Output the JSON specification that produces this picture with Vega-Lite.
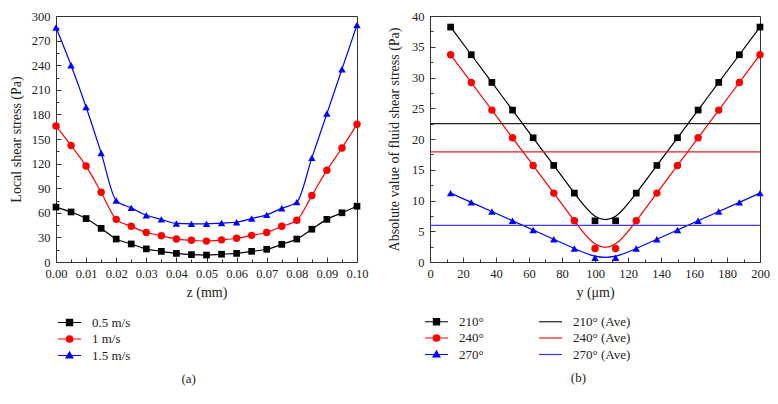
{
  "$schema": "https://vega.github.io/schema/vega-lite/v6.json",
  "padding": {"left": 8, "top": 9, "right": 5, "bottom": 5},
  "spacing": 18,
  "resolve": {
    "scale": {"x": "independent", "y": "independent", "color": "independent"},
    "legend": {"color": "independent"}
  },
  "config": {
    "font": "Liberation Serif",
    "view": {"stroke": "#333", "strokeWidth": 1},
    "axis": {"grid": false, "labelFlush": false, "domainColor": "#333", "tickColor": "#333", "labelColor": "#222", "titleColor": "#222", "labelFontSize": 12.5, "titleFontSize": 14, "titleFontWeight": "normal", "labelPadding": 11, "titlePadding": 8, "labelFont": "Liberation Serif", "titleFont": "Liberation Serif"},
    "axisX": {"labelPadding": 10, "titlePadding": 6},
    "legend": {"labelFontSize": 13, "labelFont": "Liberation Serif", "labelColor": "#222", "symbolSize": 59, "labelOffset": 16, "rowPadding": 2.5, "padding": 0},
    "title": {"fontSize": 13, "fontWeight": "normal", "font": "Liberation Serif", "color": "#222"}
  },
  "hconcat": [
    {
      "width": 301,
      "height": 246,
      "title": {"text": "(a)", "orient": "bottom", "frame": "bounds", "anchor": "middle", "offset": 10},
      "data": {"values": [
        {"z":0,"s":67,"c":"0.5 m/s"},{"z":0.005,"s":61,"c":"0.5 m/s"},{"z":0.01,"s":53,"c":"0.5 m/s"},{"z":0.015,"s":41,"c":"0.5 m/s"},{"z":0.02,"s":28,"c":"0.5 m/s"},{"z":0.025,"s":22,"c":"0.5 m/s"},{"z":0.03,"s":16,"c":"0.5 m/s"},{"z":0.035,"s":13,"c":"0.5 m/s"},{"z":0.04,"s":10.5,"c":"0.5 m/s"},{"z":0.045,"s":9,"c":"0.5 m/s"},{"z":0.05,"s":8.5,"c":"0.5 m/s"},{"z":0.055,"s":9.5,"c":"0.5 m/s"},{"z":0.06,"s":10.5,"c":"0.5 m/s"},{"z":0.065,"s":13,"c":"0.5 m/s"},{"z":0.07,"s":15.5,"c":"0.5 m/s"},{"z":0.075,"s":21.5,"c":"0.5 m/s"},{"z":0.08,"s":28,"c":"0.5 m/s"},{"z":0.085,"s":40,"c":"0.5 m/s"},{"z":0.09,"s":52,"c":"0.5 m/s"},{"z":0.095,"s":60,"c":"0.5 m/s"},{"z":0.1,"s":68,"c":"0.5 m/s"},
        {"z":0,"s":166,"c":"1 m/s"},{"z":0.005,"s":142,"c":"1 m/s"},{"z":0.01,"s":117,"c":"1 m/s"},{"z":0.015,"s":85,"c":"1 m/s"},{"z":0.02,"s":52,"c":"1 m/s"},{"z":0.025,"s":43.5,"c":"1 m/s"},{"z":0.03,"s":36,"c":"1 m/s"},{"z":0.035,"s":32,"c":"1 m/s"},{"z":0.04,"s":28,"c":"1 m/s"},{"z":0.045,"s":26.5,"c":"1 m/s"},{"z":0.05,"s":25.5,"c":"1 m/s"},{"z":0.055,"s":27,"c":"1 m/s"},{"z":0.06,"s":29,"c":"1 m/s"},{"z":0.065,"s":32.5,"c":"1 m/s"},{"z":0.07,"s":36,"c":"1 m/s"},{"z":0.075,"s":43.5,"c":"1 m/s"},{"z":0.08,"s":51,"c":"1 m/s"},{"z":0.085,"s":81,"c":"1 m/s"},{"z":0.09,"s":112,"c":"1 m/s"},{"z":0.095,"s":139,"c":"1 m/s"},{"z":0.1,"s":168,"c":"1 m/s"},
        {"z":0,"s":286,"c":"1.5 m/s"},{"z":0.005,"s":240,"c":"1.5 m/s"},{"z":0.01,"s":189,"c":"1.5 m/s"},{"z":0.015,"s":133,"c":"1.5 m/s"},{"z":0.02,"s":75,"c":"1.5 m/s"},{"z":0.025,"s":66,"c":"1.5 m/s"},{"z":0.03,"s":57,"c":"1.5 m/s"},{"z":0.035,"s":52,"c":"1.5 m/s"},{"z":0.04,"s":47,"c":"1.5 m/s"},{"z":0.045,"s":46.5,"c":"1.5 m/s"},{"z":0.05,"s":46.5,"c":"1.5 m/s"},{"z":0.055,"s":47.5,"c":"1.5 m/s"},{"z":0.06,"s":48.5,"c":"1.5 m/s"},{"z":0.065,"s":53,"c":"1.5 m/s"},{"z":0.07,"s":57.5,"c":"1.5 m/s"},{"z":0.075,"s":65.5,"c":"1.5 m/s"},{"z":0.08,"s":73,"c":"1.5 m/s"},{"z":0.085,"s":127,"c":"1.5 m/s"},{"z":0.09,"s":181,"c":"1.5 m/s"},{"z":0.095,"s":235,"c":"1.5 m/s"},{"z":0.1,"s":289,"c":"1.5 m/s"}
      ]},
      "encoding": {
        "x": {"field": "z", "type": "quantitative", "title": "z (mm)",
          "scale": {"domain": [0, 0.1], "nice": false, "zero": false, "padding": 0},
          "axis": {"values": [0,0.005,0.01,0.015,0.02,0.025,0.03,0.035,0.04,0.045,0.05,0.055,0.06,0.065,0.07,0.075,0.08,0.085,0.09,0.095,0.1],
            "labelExpr": "round(datum.value*1000) % 10 == 0 ? format(datum.value, '.2f') : ''",
            "tickSize": {"condition": {"test": "round(datum.value*1000) % 10 != 0", "value": -3}, "value": -5}}},
        "y": {"field": "s", "type": "quantitative", "title": "Local shear stress (Pa)",
          "scale": {"domain": [0, 300], "nice": false, "padding": 0},
          "axis": {"titlePadding": 8, "values": [0,15,30,45,60,75,90,105,120,135,150,165,180,195,210,225,240,255,270,285,300],
            "labelExpr": "datum.value % 30 == 0 ? datum.label : ''",
            "tickSize": {"condition": {"test": "datum.value % 30 != 0", "value": -3}, "value": -5}}},
        "color": {"field": "c", "type": "nominal",
          "scale": {"domain": ["0.5 m/s", "1 m/s", "1.5 m/s"], "range": ["#000000", "#ff0000", "#0000ff"]},
          "legend": {"title": null, "orient": "none", "legendX": 7, "legendY": 300, "direction": "vertical",
            "encode": {"symbols": {"update": {
              "shape": {"signal": "datum.value == '0.5 m/s' ? 'M-3,0H3M-0.8,-0.8H0.8V0.8H-0.8Z' : datum.value == '1 m/s' ? 'M-3,0H3M0.85,0A0.85,0.85,0,1,1,-0.85,0A0.85,0.85,0,1,1,0.85,0Z' : 'M-3,0H3M0,-0.9L0.9,0.65H-0.9Z'"},
              "fill": {"signal": "datum.value == '0.5 m/s' ? '#000000' : datum.value == '1 m/s' ? '#ff0000' : '#0000ff'"},
              "stroke": {"signal": "datum.value == '0.5 m/s' ? '#000000' : datum.value == '1 m/s' ? '#ff0000' : '#0000ff'"},
              "strokeWidth": {"value": 1.2},
              "opacity": {"value": 1},
              "fillOpacity": {"value": 1},
              "strokeOpacity": {"value": 1},
              "size": {"value": 59}}}}}}
      },
      "layer": [
        {"mark": {"type": "line", "interpolate": "monotone", "strokeWidth": 1.2}},
        {"transform": [{"filter": "datum.c == '0.5 m/s'"}], "mark": {"type": "point", "shape": "square", "filled": true, "opacity": 1, "size": 45}},
        {"transform": [{"filter": "datum.c == '1 m/s'"}], "mark": {"type": "point", "shape": "circle", "filled": true, "opacity": 1, "size": 55}},
        {"transform": [{"filter": "datum.c == '1.5 m/s'"}], "mark": {"type": "point", "shape": "triangle-up", "filled": true, "opacity": 1, "size": 55}}
      ]
    },
    {
      "width": 330,
      "height": 246,
      "title": {"text": "(b)", "orient": "bottom", "frame": "bounds", "anchor": "middle", "offset": 10},
      "data": {"values": [
        {"y":12.5,"v":38.2,"c":"210°"},{"y":25,"v":33.7,"c":"210°"},{"y":37.5,"v":29.2,"c":"210°"},{"y":50,"v":24.7,"c":"210°"},{"y":62.5,"v":20.2,"c":"210°"},{"y":75,"v":15.7,"c":"210°"},{"y":87.5,"v":11.2,"c":"210°"},{"y":100,"v":6.7,"c":"210°"},{"y":112.5,"v":6.7,"c":"210°"},{"y":125,"v":11.2,"c":"210°"},{"y":137.5,"v":15.7,"c":"210°"},{"y":150,"v":20.2,"c":"210°"},{"y":162.5,"v":24.7,"c":"210°"},{"y":175,"v":29.2,"c":"210°"},{"y":187.5,"v":33.7,"c":"210°"},{"y":200,"v":38.2,"c":"210°"},
        {"y":12.5,"v":33.7,"c":"240°"},{"y":25,"v":29.2,"c":"240°"},{"y":37.5,"v":24.7,"c":"240°"},{"y":50,"v":20.2,"c":"240°"},{"y":62.5,"v":15.7,"c":"240°"},{"y":75,"v":11.2,"c":"240°"},{"y":87.5,"v":6.7,"c":"240°"},{"y":100,"v":2.2,"c":"240°"},{"y":112.5,"v":2.2,"c":"240°"},{"y":125,"v":6.7,"c":"240°"},{"y":137.5,"v":11.2,"c":"240°"},{"y":150,"v":15.7,"c":"240°"},{"y":162.5,"v":20.2,"c":"240°"},{"y":175,"v":24.7,"c":"240°"},{"y":187.5,"v":29.2,"c":"240°"},{"y":200,"v":33.7,"c":"240°"},
        {"y":12.5,"v":11.2,"c":"270°"},{"y":25,"v":9.7,"c":"270°"},{"y":37.5,"v":8.2,"c":"270°"},{"y":50,"v":6.7,"c":"270°"},{"y":62.5,"v":5.2,"c":"270°"},{"y":75,"v":3.7,"c":"270°"},{"y":87.5,"v":2.2,"c":"270°"},{"y":100,"v":0.7,"c":"270°"},{"y":112.5,"v":0.7,"c":"270°"},{"y":125,"v":2.2,"c":"270°"},{"y":137.5,"v":3.7,"c":"270°"},{"y":150,"v":5.2,"c":"270°"},{"y":162.5,"v":6.7,"c":"270°"},{"y":175,"v":8.2,"c":"270°"},{"y":187.5,"v":9.7,"c":"270°"},{"y":200,"v":11.2,"c":"270°"}
      ]},
      "encoding": {
        "x": {"field": "y", "type": "quantitative", "title": "y (μm)",
          "scale": {"domain": [0, 200], "nice": false, "padding": 0},
          "axis": {"values": [0,10,20,30,40,50,60,70,80,90,100,110,120,130,140,150,160,170,180,190,200],
            "labelExpr": "datum.value % 20 == 0 ? datum.label : ''",
            "tickSize": {"condition": {"test": "datum.value % 20 != 0", "value": -3}, "value": -5}}},
        "y": {"field": "v", "type": "quantitative", "title": "Absolute value of fluid shear stress (Pa)",
          "scale": {"domain": [0, 40], "nice": false, "padding": 0},
          "axis": {"titlePadding": 10, "values": [0,2.5,5,7.5,10,12.5,15,17.5,20,22.5,25,27.5,30,32.5,35,37.5,40],
            "labelExpr": "datum.value % 5 == 0 ? datum.label : ''",
            "tickSize": {"condition": {"test": "datum.value % 5 != 0", "value": -3}, "value": -5}}},
        "color": {"field": "c", "type": "nominal",
          "scale": {"domain": ["210°", "240°", "270°", "210° (Ave)", "240° (Ave)", "270° (Ave)"], "range": ["#000000", "#ff0000", "#0000ff", "#222222", "#e02020", "#3a3ae0"]},
          "legend": {"title": null, "orient": "none", "legendX": 0, "legendY": 299, "direction": "vertical", "columns": 2, "columnPadding": 52,
            "encode": {"symbols": {"update": {
              "shape": {"signal": "datum.value == '210°' ? 'M-3,0H3M-0.8,-0.8H0.8V0.8H-0.8Z' : datum.value == '240°' ? 'M-3,0H3M0.85,0A0.85,0.85,0,1,1,-0.85,0A0.85,0.85,0,1,1,0.85,0Z' : datum.value == '270°' ? 'M-3,0H3M0,-0.9L0.9,0.65H-0.9Z' : 'M-3,0H3'"},
              "fill": {"signal": "indexof(datum.value, '210') == 0 ? '#000000' : indexof(datum.value, '240') == 0 ? '#ff0000' : '#0000ff'"},
              "stroke": {"signal": "datum.value == '210°' ? '#000000' : datum.value == '240°' ? '#ff0000' : datum.value == '270°' ? '#0000ff' : datum.value == '210° (Ave)' ? '#444444' : datum.value == '240° (Ave)' ? '#e02020' : '#7a7af0'"},
              "strokeWidth": {"value": 1.2},
              "opacity": {"value": 1},
              "fillOpacity": {"value": 1},
              "strokeOpacity": {"value": 1},
              "size": {"value": 59}}}}}}
      },
      "layer": [
        {"mark": {"type": "line", "interpolate": "basis", "strokeWidth": 1.2}},
        {"transform": [{"filter": "datum.c == '210°'"}], "mark": {"type": "point", "shape": "square", "filled": true, "opacity": 1, "size": 45}},
        {"transform": [{"filter": "datum.c == '240°'"}], "mark": {"type": "point", "shape": "circle", "filled": true, "opacity": 1, "size": 55}},
        {"transform": [{"filter": "datum.c == '270°'"}], "mark": {"type": "point", "shape": "triangle-up", "filled": true, "opacity": 1, "size": 55}},
        {"data": {"values": [
          {"c": "210° (Ave)", "v": 22.5},
          {"c": "240° (Ave)", "v": 17.9},
          {"c": "270° (Ave)", "v": 5.95}
        ]},
          "mark": {"type": "rule", "strokeWidth": 1.2},
          "encoding": {"x": null, "y": {"field": "v", "type": "quantitative"}}}
      ]
    }
  ]
}
